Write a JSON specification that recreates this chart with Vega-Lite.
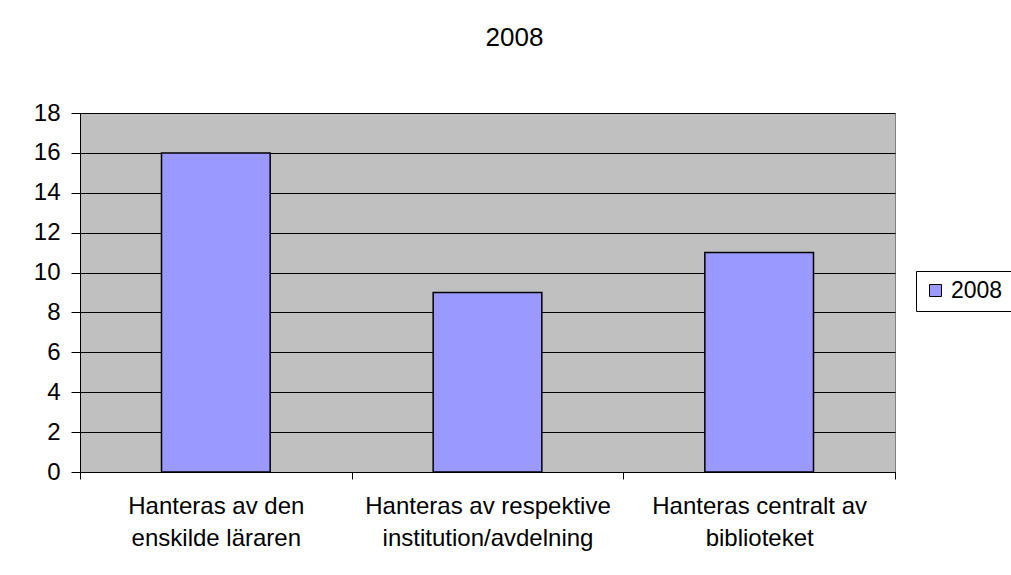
{
  "$schema": "https://vega.github.io/schema/vega-lite/v6.json",
  "width": 815,
  "height": 359,
  "autosize": {"type": "none"},
  "padding": {"left": 80, "top": 113, "right": 116, "bottom": 103},
  "background": "white",
  "title": {
    "text": "2008",
    "anchor": "middle",
    "dx": 27,
    "offset": 29,
    "baseline": "alphabetic",
    "font": "Liberation Sans",
    "fontSize": 26,
    "fontWeight": "normal",
    "color": "black"
  },
  "data": {
    "values": [
      {"kategori": "Hanteras av den enskilde läraren", "serie": "2008", "antal": 16},
      {"kategori": "Hanteras av respektive institution/avdelning", "serie": "2008", "antal": 9},
      {"kategori": "Hanteras centralt av biblioteket", "serie": "2008", "antal": 11}
    ]
  },
  "mark": {"type": "bar", "stroke": "black", "strokeWidth": 1.5, "width": {"band": 0.4}},
  "encoding": {
    "x": {
      "field": "kategori",
      "type": "nominal",
      "sort": null,
      "scale": {"paddingInner": 0, "paddingOuter": 0},
      "axis": {
        "title": null,
        "labelAngle": 0,
        "tickBand": "extent",
        "labelExpr": "datum.value == 'Hanteras av den enskilde läraren' ? ['Hanteras av den', 'enskilde läraren'] : datum.value == 'Hanteras av respektive institution/avdelning' ? ['Hanteras av respektive', 'institution/avdelning'] : datum.value == 'Hanteras centralt av biblioteket' ? ['Hanteras centralt av', 'biblioteket'] : ''",
        "labelFont": "Liberation Sans",
        "labelFontSize": 24,
        "labelColor": "black",
        "labelLineHeight": 32,
        "labelPadding": 15,
        "labelBaseline": "top",
        "labelLimit": 400,
        "domainColor": "black",
        "domainWidth": 1,
        "tickColor": "black",
        "tickSize": 7,
        "grid": false
      }
    },
    "y": {
      "field": "antal",
      "type": "quantitative",
      "scale": {"domain": [0, 18], "nice": false},
      "axis": {
        "title": null,
        "values": [0, 2, 4, 6, 8, 10, 12, 14, 16, 18],
        "labelFont": "Liberation Sans",
        "labelFontSize": 24,
        "labelColor": "black",
        "labelPadding": 11,
        "tickSize": 9,
        "tickColor": "black",
        "domainColor": "black",
        "grid": true,
        "gridColor": "black",
        "gridWidth": 1,
        "gridOpacity": 1
      }
    },
    "color": {
      "field": "serie",
      "type": "nominal",
      "scale": {"range": ["#9999FF"]},
      "legend": {
        "title": null,
        "orient": "none",
        "legendX": 836,
        "legendY": 158,
        "symbolType": "square",
        "symbolSize": 144,
        "symbolStrokeColor": "black",
        "symbolStrokeWidth": 1,
        "labelFont": "Liberation Sans",
        "labelFontSize": 23,
        "labelColor": "black",
        "labelOffset": 4,
        "strokeColor": "black",
        "fillColor": "white",
        "padding": 8
      }
    }
  },
  "config": {
    "view": {"fill": "#C0C0C0", "stroke": "#808080", "strokeWidth": 1}
  }
}
